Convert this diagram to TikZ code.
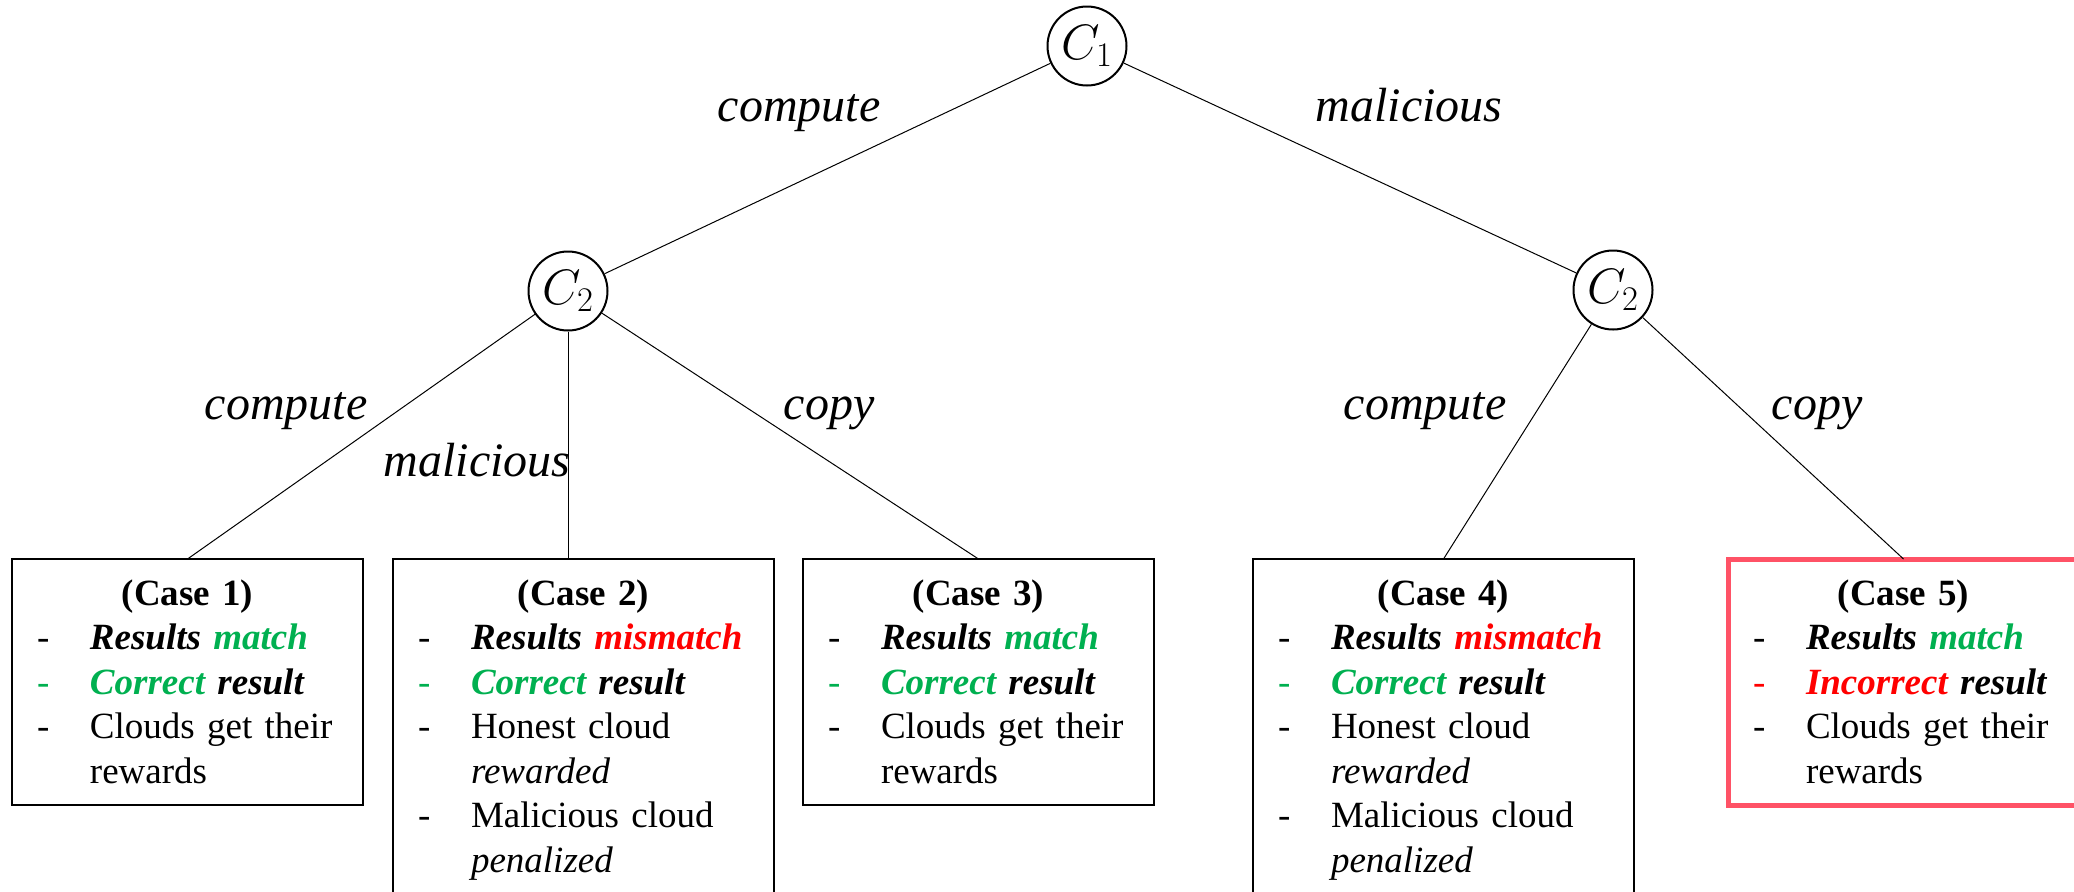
\documentclass[tikz,border=0pt]{standalone}
\usepackage{fontspec}
\setmainfont{Liberation Serif}
\usepackage{xcolor}
\definecolor{okgreen}{RGB}{0,176,80}
\definecolor{badred}{RGB}{255,0,0}
\definecolor{alertframe}{RGB}{255,82,102}
\newcommand{\caseitem}[2][black]{\makebox[26.5pt][l]{\textcolor{#1}{-}}#2}
\newcommand{\casetitle}[1]{\makebox[\hsize]{\rule{0pt}{23pt}\textbf{(Case #1)}}}
\newcommand{\caseend}{\rule[-11pt]{0pt}{11pt}}
\tikzset{
  player/.style={circle, draw, line width=1pt, minimum size=39.5pt, inner sep=0pt,
    font=\fontsize{24}{28}\selectfont},
  move/.style={anchor=base, inner sep=0pt, font=\fontsize{24}{28}\selectfont\itshape},
  casebox/.style={draw, line width=0.7pt, anchor=north west, align=left, outer sep=0pt,
    inner xsep=12.5pt, inner ysep=0pt, text width=150.5pt,
    font=\fontsize{18.5}{22.25}\selectfont},
  widebox/.style={casebox, text width=165.5pt},
}
\begin{document}
\begin{tikzpicture}[x=0.5pt, y=-0.5pt]
\useasboundingbox (0,0) rectangle (2074,891);

\node[player] (c1) at (1087,46) {$C_1$};
\node[player] (c2a) at (568,291) {$C_2$};
\node[player] (c2b) at (1613,290) {$C_2$};

\node[casebox] (case1) at (12,559) {\casetitle{1}\\
\caseitem{\textbf{\textit{Results \textcolor{okgreen}{match}}}}\\
\caseitem[okgreen]{\textbf{\textit{\textcolor{okgreen}{Correct} result}}}\\
\caseitem{Clouds get their}\\
\hspace*{26.5pt}rewards\caseend};
\node[widebox] (case2) at (393,559) {\casetitle{2}\\
\caseitem{\textbf{\textit{Results \textcolor{badred}{mismatch}}}}\\
\caseitem[okgreen]{\textbf{\textit{\textcolor{okgreen}{Correct} result}}}\\
\caseitem{Honest cloud}\\
\hspace*{26.5pt}\textit{rewarded}\\
\caseitem{Malicious cloud}\\
\hspace*{26.5pt}\textit{penalized}\caseend};
\node[casebox] (case3) at (803,559) {\casetitle{3}\\
\caseitem{\textbf{\textit{Results \textcolor{okgreen}{match}}}}\\
\caseitem[okgreen]{\textbf{\textit{\textcolor{okgreen}{Correct} result}}}\\
\caseitem{Clouds get their}\\
\hspace*{26.5pt}rewards\caseend};
\node[widebox] (case4) at (1253,559) {\casetitle{4}\\
\caseitem{\textbf{\textit{Results \textcolor{badred}{mismatch}}}}\\
\caseitem[okgreen]{\textbf{\textit{\textcolor{okgreen}{Correct} result}}}\\
\caseitem{Honest cloud}\\
\hspace*{26.5pt}\textit{rewarded}\\
\caseitem{Malicious cloud}\\
\hspace*{26.5pt}\textit{penalized}\caseend};
\node[casebox, draw=alertframe, line width=2.5pt] (case5) at (1728,559) {\casetitle{5}\\
\caseitem{\textbf{\textit{Results \textcolor{okgreen}{match}}}}\\
\caseitem[badred]{\textbf{\textit{\textcolor{badred}{Incorrect} result}}}\\
\caseitem{Clouds get their}\\
\hspace*{26.5pt}rewards\caseend};

\draw[line width=0.5pt] (c1) -- (c2a);
\draw[line width=0.5pt] (c1) -- (c2b);
\draw[line width=0.5pt] (c2a) -- (case1.north);
\draw[line width=0.5pt] (c2a) -- (c2a |- case2.north);
\draw[line width=0.5pt] (c2a) -- (case3.north);
\draw[line width=0.5pt] (c2b) -- (case4.north);
\draw[line width=0.5pt] (c2b) -- (case5.north);

\node[move] (m1) at (799,121) {compute};
\node[move] (m2) at (1409,121) {malicious};
\node[move] (m3) at (286,419) {compute};
\node[move] (m4) at (477,476) {malicious};
\node[move] (m5) at (829,419) {copy};
\node[move] (m6) at (1425,419) {compute};
\node[move] (m7) at (1817,419) {copy};
\end{tikzpicture}
\end{document}
